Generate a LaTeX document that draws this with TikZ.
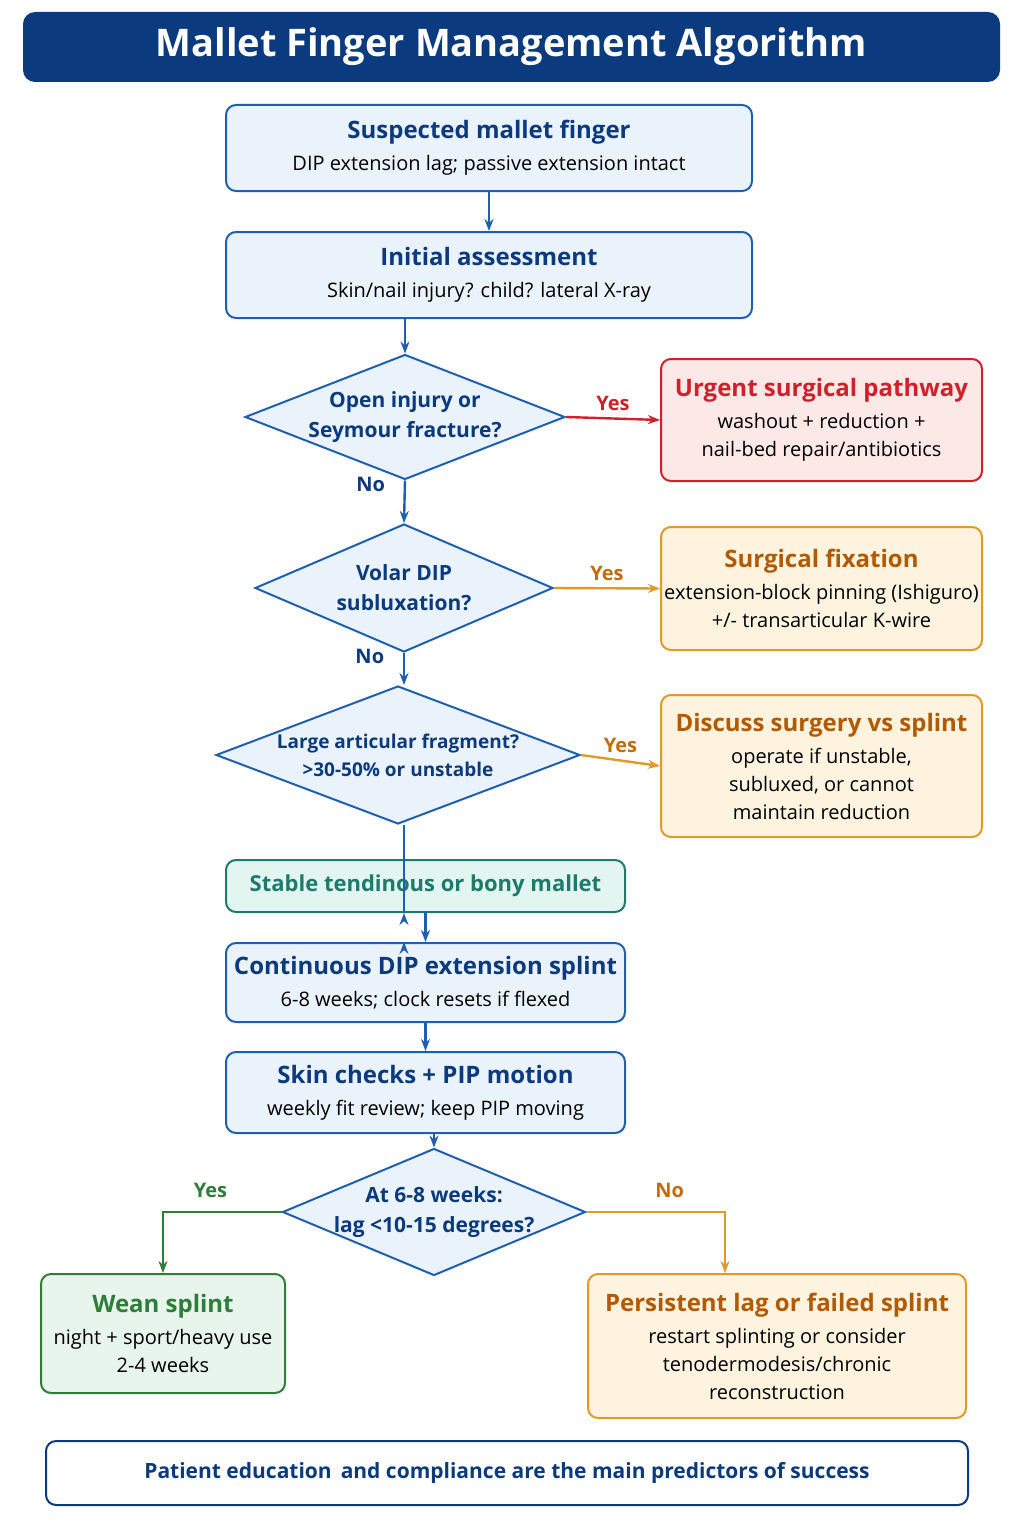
\documentclass[tikz,border=0pt]{standalone}
\usepackage{fontspec}
\setmainfont{Open Sans}
\usetikzlibrary{arrows.meta,shapes.geometric,positioning}
\definecolor{navy}{HTML}{0B3A7E}
\definecolor{bluebd}{HTML}{1F5FAF}
\definecolor{bluefill}{HTML}{EAF3FC}
\definecolor{redbd}{HTML}{D0202A}
\definecolor{redfill}{HTML}{FDE8E8}
\definecolor{orbd}{HTML}{E09A2A}
\definecolor{orfill}{HTML}{FEF3DE}
\definecolor{ortext}{HTML}{B35A00}
\definecolor{tealbd}{HTML}{1E7A6A}
\definecolor{tealfill}{HTML}{E3F5F0}
\definecolor{grbd}{HTML}{2E7D3A}
\definecolor{grfill}{HTML}{E8F5EC}
\tikzset{
  box/.style={draw=bluebd,fill=bluefill,line width=1pt,rounded corners=5pt,align=center,font=\fontsize{10}{14}\selectfont,inner sep=0pt},
  redbox/.style={box,draw=redbd,fill=redfill},
  orbox/.style={box,draw=orbd,fill=orfill},
  grbox/.style={box,draw=grbd,fill=grfill},
  dia/.style={diamond,draw=bluebd,fill=bluefill,line width=1pt,inner sep=0pt},
  dtext/.style={align=center,font=\bfseries\fontsize{10.5}{15}\selectfont,text=navy},
  arr/.style={-{Stealth[length=6pt]},line width=1.2pt,draw=bluebd},
  lbl/.style={font=\bfseries\fontsize{10}{12}\selectfont}
}
\newcommand{\hd}[2]{{\bfseries\fontsize{12}{16}\selectfont\color{#1}#2}\\[2pt]}
\begin{document}
\begin{tikzpicture}[x=0.5pt,y=-0.5pt]
\useasboundingbox (0,0) rectangle (1024,1536);
% title
\node[fill=navy,rounded corners=6pt,minimum width=488.5pt,minimum height=35pt,text=white,font=\bfseries\fontsize{19}{22}\selectfont] (title) at (511.5,47) {Mallet Finger Management Algorithm};
% main column
\node[box,minimum width=263pt,minimum height=43pt] (susp) at (489,148) {\hd{navy}{Suspected mallet finger}DIP extension lag; passive extension intact};
\node[box,minimum width=263pt,minimum height=43pt] (init) at (489,275) {\hd{navy}{Initial assessment}Skin/nail injury? child? lateral X-ray};
\node[dia,minimum width=160pt,minimum height=62.5pt] (open) at (405,417) {};
\node[dtext] at (open) {Open injury or\\Seymour fracture?};
\node[dia,minimum width=149pt,minimum height=64pt] (volar) at (404,588) {};
\node[dtext] at (volar) {Volar DIP\\subluxation?};
\node[dia,minimum width=182pt,minimum height=69pt] (large) at (398,755) {};
\node[dtext,font=\bfseries\fontsize{9.5}{14}\selectfont] at (large) {Large articular fragment?\\>30-50\% or unstable};
\node[box,draw=tealbd,fill=tealfill,text=tealbd,font=\bfseries\fontsize{11}{14}\selectfont,minimum width=199.5pt,minimum height=26pt] (stable) at (425.5,886) {Stable tendinous or bony mallet};
\node[box,minimum width=199.5pt,minimum height=39.5pt] (cont) at (425.5,982.5) {\hd{navy}{Continuous DIP extension splint}6-8 weeks; clock resets if flexed};
\node[box,minimum width=199.5pt,minimum height=40.5pt] (skin) at (425.5,1092.5) {\hd{navy}{Skin checks + PIP motion}weekly fit review; keep PIP moving};
\node[dia,minimum width=151.5pt,minimum height=63.5pt] (lag) at (434,1212) {};
\node[dtext] at (lag) {At 6-8 weeks:\\lag <10-15 degrees?};
% side boxes
\node[redbox,minimum width=160.5pt,minimum height=61pt] (urgent) at (821.5,420) {\hd{redbd}{Urgent surgical pathway}washout + reduction +\\nail-bed repair/antibiotics};
\node[orbox,minimum width=160.5pt,minimum height=61.5pt] (fix) at (821.5,588.5) {\hd{ortext}{Surgical fixation}extension-block pinning (Ishiguro)\\+/- transarticular K-wire};
\node[orbox,minimum width=160.5pt,minimum height=71pt] (disc) at (821.5,766) {\hd{ortext}{Discuss surgery vs splint}operate if unstable,\\subluxed, or cannot\\maintain reduction};
\node[grbox,minimum width=122pt,minimum height=59.5pt] (wean) at (163,1333.5) {\hd{grbd}{Wean splint}night + sport/heavy use\\2-4 weeks};
\node[orbox,minimum width=189pt,minimum height=72pt] (pers) at (777,1346) {\hd{ortext}{Persistent lag or failed splint}restart splinting or consider\\tenodermodesis/chronic\\reconstruction};
% footer
\node[box,fill=white,draw=navy,minimum width=461pt,minimum height=32pt,text=navy,font=\bfseries\fontsize{10.5}{13}\selectfont] (foot) at (507,1473) {Patient education\,\ and compliance are the main predictors of success};
% arrows
\draw[arr] (susp) -- (init);
\draw[arr] (init.south -| open) -- (open.north);
\draw[arr] (open.south) -- (volar.north) node[pos=0.1,left=6pt,lbl,text=navy] {No};
\draw[arr] (volar.south) -- (large.north -| volar) node[pos=0.1,left=6pt,lbl,text=navy] {No};
\draw[arr] (large.south -| volar) -- (stable.south -| volar) ++(0,0);
\draw[arr] (cont.north -| volar) ++(0,0);
\draw[arr] (stable) -- (cont);
\draw[arr] (cont) -- (skin);
\draw[arr] (skin.south -| lag) -- (lag.north);
\draw[arr,draw=redbd] (open.east) -- (urgent.west) node[midway,above,lbl,text=redbd] {Yes};
\draw[arr,draw=orbd] (volar.east) -- (fix.west) node[midway,above,lbl,text=ortext!70!orbd] {Yes};
\draw[arr,draw=orbd] (large.east) -- (disc.west) node[midway,above,lbl,text=ortext!70!orbd] {Yes};
\draw[arr,draw=grbd] (lag.west) -| (wean.north) node[pos=0.3,above=3pt,lbl,text=grbd] {Yes};
\draw[arr,draw=orbd] (lag.east) -| (pers.north -| 725,0) node[pos=0.3,above=3pt,lbl,text=ortext!70!orbd] {No};
\end{tikzpicture}
\end{document}
